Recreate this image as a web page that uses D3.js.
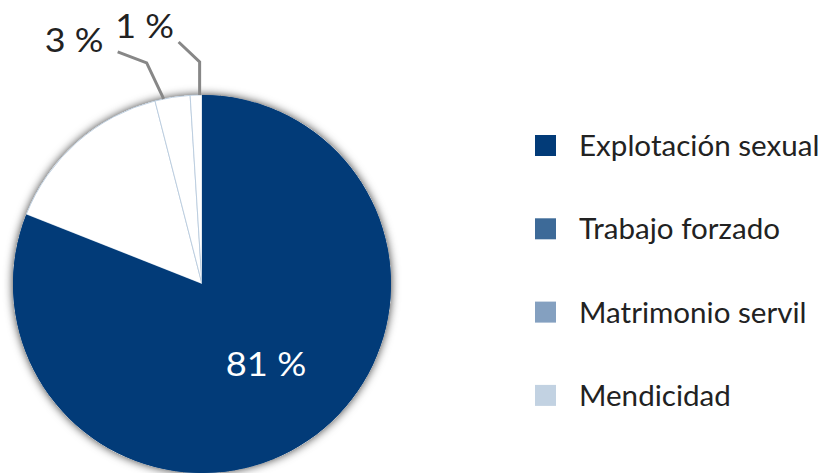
<!DOCTYPE html>
<html><head><meta charset="utf-8">
<script src="https://cdn.jsdelivr.net/npm/d3@7"></script>
<style>
html,body{margin:0;padding:0;background:#fff;}
svg{display:block;}
text{font-family:Lato,"Open Sans",sans-serif;font-weight:400;}
</style></head>
<body>
<svg id="chart" width="821" height="473"></svg>
<script>
const categories = ["Explotación sexual", "Trabajo forzado", "Matrimonio servil", "Mendicidad"];
const values = [81, 15, 3, 1];
const valueLabels = ["81 %", "", "3 %", "1 %"];
const legendColors = ["#023b78", "#3d6a98", "#84a0c0", "#c2d2e2"];
const sliceFills = ["#023b78", "#ffffff", "#ffffff", "#ffffff"];

const W = 821, H = 473;
const cx = 202, cy = 284, R = 189;
const svg = d3.select("#chart");

const defs = svg.append("defs");
const f = defs.append("filter").attr("id","shadow").attr("x","-20%").attr("y","-20%").attr("width","140%").attr("height","140%");
f.append("feGaussianBlur").attr("in","SourceAlpha").attr("stdDeviation",5).attr("result","b");
f.append("feFlood").attr("flood-color","#000").attr("flood-opacity",0.8).attr("result","c");
f.append("feComposite").attr("in","c").attr("in2","b").attr("operator","in").attr("result","s");
const m = f.append("feMerge");
m.append("feMergeNode").attr("in","s");
m.append("feMergeNode").attr("in","SourceGraphic");

const data = categories.map((c,i)=>({name:c, value:values[i], label:valueLabels[i], fill:sliceFills[i]}));
const pie = d3.pie().sort(null).value(d=>d.value);
const arcs = pie(data);
const arc = d3.arc().innerRadius(0).outerRadius(R);

const g = svg.append("g").attr("transform",`translate(${cx},${cy})`);
g.append("circle").attr("r",R).attr("fill","#fff").attr("filter","url(#shadow)");
g.selectAll("path.slice").data(arcs).join("path")
  .attr("class","slice")
  .attr("d",arc)
  .attr("fill",d=>d.data.fill)
  .attr("stroke",(d,i)=> i===0 ? "none" : "#b3c6da")
  .attr("stroke-width",0.8);
g.append("path").attr("d",arc(arcs[0])).attr("fill",sliceFills[0]);

// horizontal stretch to mimic the original typeface widths
function fit(k){
  return sel => sel.each(function(){
    const w = this.getComputedTextLength();
    d3.select(this).attr("textLength", w*k).attr("lengthAdjust","spacingAndGlyphs");
  });
}

// label inside main slice
g.append("text").attr("x",64).attr("y",92)
  .attr("fill","#fff").attr("font-size",33).attr("text-anchor","middle")
  .text(arcs[0].data.label).call(fit(1.1));

// leader lines for small slices (layout: anchor fraction within slice, elbow offsets)
const leaders = [
  {idx:2, frac:0.25, elbow:[-17,-36], end:[-46,-47], tx:-89.5, ty:-47},
  {idx:3, frac:0.8, elbow:[0,-33], end:[-21,-53], tx:-55, ty:-57}
];
leaders.forEach(L=>{
  const a = arcs[L.idx];
  const ang = a.startAngle + (a.endAngle-a.startAngle)*L.frac;
  const px = R*Math.sin(ang), py = -R*Math.cos(ang);
  const pts = [[px,py],[px+L.elbow[0],py+L.elbow[1]],[px+L.end[0],py+L.end[1]]];
  g.append("path").attr("d",d3.line()(pts)).attr("fill","none").attr("stroke","#878787").attr("stroke-width",3);
  g.append("text").attr("x",px+L.tx).attr("y",py+L.ty).attr("font-size",32).attr("fill","#222").attr("text-anchor","middle").text(a.data.label).call(fit(1.12));
});

// legend
const leg = svg.append("g").attr("transform","translate(535,135)");
const rows = leg.selectAll("g").data(categories).join("g").attr("transform",(d,i)=>`translate(0,${i*83.3})`);
rows.append("rect").attr("width",21).attr("height",21).attr("fill",(d,i)=>legendColors[i]);
rows.append("text").attr("x",44).attr("y",21).attr("font-size",29).attr("fill","#222").text(d=>d).call(fit(1.02));
</script>
</body></html>
